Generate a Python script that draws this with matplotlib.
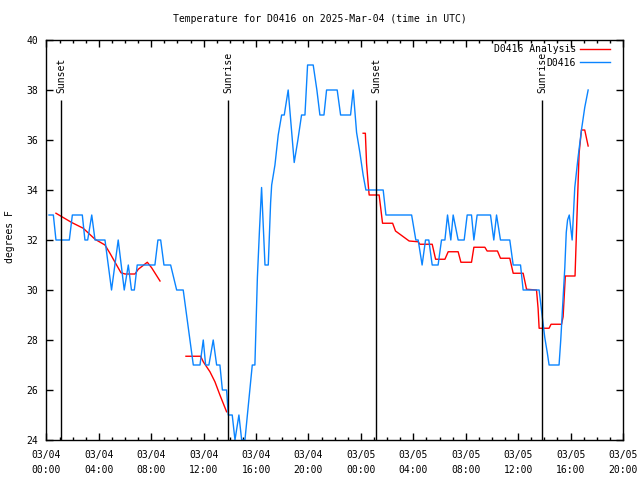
"""Temperature for D0416 on 2025-Mar-04, observed vs analysis, gnuplot look."""

from datetime import datetime, timedelta

import matplotlib
matplotlib.use("Agg")
import matplotlib.pyplot as plt
import numpy as np
from matplotlib.ticker import FuncFormatter, MultipleLocator

START = datetime(2025, 3, 4, 0, 0)

# observed D0416, hours since 03/04 00:00 UTC
obs_hours = [
    0.20, 0.53, 0.73, 1.75, 1.98, 2.74, 2.94, 3.15, 3.46, 3.71, 4.47, 4.97,
    5.48, 5.94, 6.25, 6.49, 6.71, 6.93, 8.28, 8.51, 8.72, 8.97, 9.48, 9.94,
    10.44, 11.21, 11.72, 11.97, 12.15, 12.40, 12.73, 12.99, 13.24, 13.43,
    13.75, 13.88, 14.18, 14.39, 14.69, 14.90, 15.15, 15.71, 15.91, 16.10,
    16.26, 16.42, 16.68, 16.93, 17.11, 17.19, 17.44, 17.69, 17.95, 18.15,
    18.45, 18.91, 19.19, 19.47, 19.73, 19.93, 20.36, 20.64, 20.87, 21.18,
    21.38, 22.19, 22.45, 23.21, 23.41, 23.67, 23.92, 24.17, 24.38, 25.70,
    25.91, 27.87, 28.19, 28.37, 28.67, 28.93, 29.18, 29.44, 29.89, 30.15,
    30.41, 30.61, 30.86, 31.04, 31.42, 31.88, 32.11, 32.44, 32.62, 32.87,
    33.89, 34.14, 34.35, 34.65, 35.36, 35.62, 36.18, 36.38, 37.60, 37.80,
    38.03, 38.22, 38.36, 39.12, 39.25, 39.41, 39.56, 39.67, 39.77, 39.90,
    40.12, 40.32, 40.57, 40.83, 41.08, 41.34,
]
obs_temp = [
    33, 33, 32, 32, 33, 33, 32, 32, 33, 32, 32, 30,
    32, 30, 31, 30, 30, 31, 31, 32, 32, 31, 31, 30,
    30, 27, 27, 28, 27, 27, 28, 27, 27, 26,
    26, 25, 25, 24, 25, 24, 24, 27, 27, 30.5,
    32.4, 34.1, 31, 31, 33.5, 34.2, 35, 36.2, 37, 37,
    38, 35.1, 36, 37, 37, 39, 39, 38, 37, 37,
    38, 38, 37, 37, 38, 36.3, 35.5, 34.6, 34, 34,
    33, 33, 32, 32, 31, 32, 32, 31, 31, 32,
    32, 33, 32, 33, 32, 32, 33, 33, 32, 33,
    33, 32, 33, 32, 32, 31, 31, 30, 30, 29.1,
    28.1, 27.5, 27, 27, 28, 29.5, 30.9, 32.3, 32.8, 33,
    32, 34.1, 35.3, 36.4, 37.3, 38,
]

# D0416 analysis (gaps where no analysis)
ana_hours = [
    0.73, 1.93, 2.81, 3.71, 4.47, 4.85, 5.69, 6.00, 6.76, 7.01, 7.70, 8.03, 8.67,
    9.5,
    10.65, 11.77, 11.97, 12.48, 12.86, 13.24, 13.75,
    19.0,
    24.17, 24.34, 24.43, 24.56, 24.63, 25.39, 25.50, 25.65, 26.42, 26.64,
    27.68, 28.37, 28.50, 29.44, 29.70, 30.41, 30.66, 31.42, 31.63, 32.44,
    32.62, 33.46, 33.63, 34.42, 34.65, 35.36, 35.62, 36.38, 36.64, 37.40,
    37.52, 37.60, 38.36, 38.51, 39.31, 39.43, 39.60, 40.34, 40.47, 40.65,
    40.83, 41.08, 41.34,
]
ana_temp = [
    33.07, 32.70, 32.47, 32.03, 31.80, 31.47, 30.69, 30.64, 30.64, 30.83,
    31.11, 30.89, 30.36,
    np.nan,
    27.35, 27.35, 27.13, 26.73, 26.33, 25.80, 25.13,
    np.nan,
    36.27, 36.27, 35.07, 34.20, 33.80, 33.80, 33.33, 32.67, 32.67, 32.36,
    31.96, 31.93, 31.83, 31.83, 31.23, 31.23, 31.53, 31.53, 31.11, 31.11,
    31.71, 31.71, 31.56, 31.56, 31.27, 31.27, 30.67, 30.67, 30.03, 30.00,
    29.27, 28.47, 28.47, 28.63, 28.63, 28.93, 30.56, 30.56, 32.67, 35.47,
    36.40, 36.40, 35.76,
]

sun_hours = [1.15, 13.87, 25.15, 37.85]
sun_labels = ["Sunset", "Sunrise", "Sunset", "Sunrise"]

FONT = "DejaVu Sans Mono"
FS = 7
plt.rcParams["font.family"] = FONT
plt.rcParams["font.size"] = FS

fig = plt.figure(figsize=(6.4, 4.8), dpi=100)
ax = fig.add_axes([46.4 / 640, 40 / 480, 576.6 / 640, 400 / 480])

ax.plot(ana_hours, ana_temp, color="#ff0000", lw=1.0, label="D0416 Analysis")
ax.plot(obs_hours, obs_temp, color="#0a84ff", lw=1.0, label="D0416")

ax.vlines(sun_hours, 24, 37.6, color="black", lw=1.0)
for h, lab in zip(sun_hours, sun_labels):
    ax.annotate(lab, (h, 37.6), xytext=(0, 5), textcoords="offset points",
                rotation=90, ha="center", va="bottom", fontsize=FS)

ax.set_xlim(0, 44)
ax.set_ylim(24, 40)
ax.xaxis.set_major_locator(MultipleLocator(4))
ax.xaxis.set_minor_locator(MultipleLocator(1))
ax.yaxis.set_major_locator(MultipleLocator(2))
ax.xaxis.set_major_formatter(FuncFormatter(
    lambda v, _: (START + timedelta(hours=v)).strftime("%m/%d\n%H:%M")))
ax.tick_params(which="both", direction="in", top=True, right=True,
               color="black", width=1.0, labelsize=FS)
ax.tick_params(which="major", length=5)
ax.tick_params(which="minor", length=2.5)
ax.tick_params(axis="x", pad=7)
ax.tick_params(axis="y", pad=6)
for lab in ax.get_xticklabels():
    lab.set_linespacing(1.6)
for sp in ax.spines.values():
    sp.set_linewidth(1.0)

leg = ax.legend(loc="upper right", bbox_to_anchor=(0.978, 0.99),
                frameon=False, markerfirst=False, borderpad=0,
                borderaxespad=0, handlelength=3.1, handletextpad=0.45,
                labelspacing=0.4, fontsize=FS)

fig.text(0.5, 1 - 19 / 480, "Temperature for D0416 on 2025-Mar-04 (time in UTC)",
         ha="center", va="center", fontsize=FS)
fig.text(10 / 640, 1 - 237 / 480, "degrees F", rotation=90,
         ha="center", va="center", fontsize=FS)

fig.savefig("out.png", dpi=100)
